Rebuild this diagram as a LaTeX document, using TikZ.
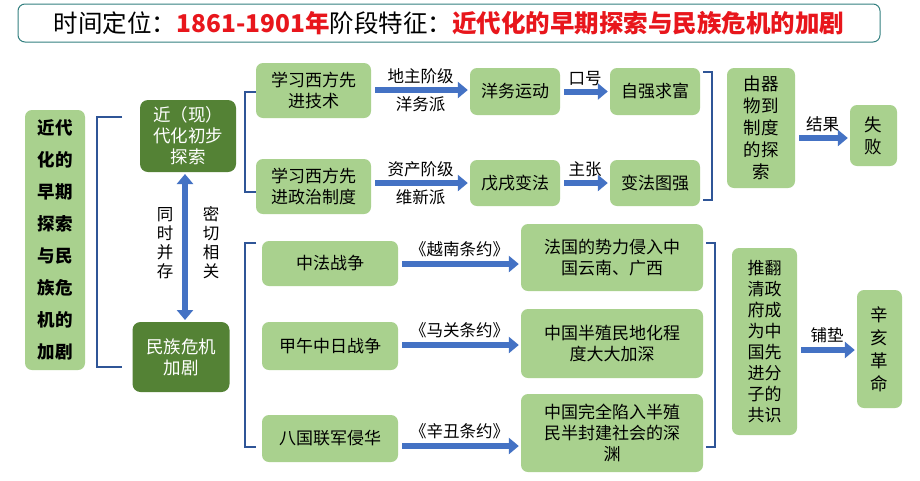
\documentclass[tikz,border=0pt]{standalone}
\usepackage{fontspec}
\setmainfont{Noto Sans CJK SC}
\usetikzlibrary{arrows.meta}
\definecolor{lg}{HTML}{A9D18E}
\definecolor{dg}{HTML}{548235}
\definecolor{ab}{HTML}{4472C4}
\definecolor{br}{HTML}{2F5597}
\definecolor{rd}{HTML}{E8161C}
\tikzset{
 lbox/.style={fill=lg,rounded corners=7pt,align=center,font=\fontsize{17}{21}\selectfont,inner sep=1pt},
 dbox/.style={fill=dg,rounded corners=8pt,align=center,text=white,font=\fontsize{17.5}{21}\selectfont,inner sep=1pt},
 barr/.style={draw=ab,line width=6pt,-{Triangle[length=10pt,width=16pt]},shorten <=4pt,shorten >=2pt},
 lab/.style={font=\fontsize{16.5}{19}\selectfont,inner sep=1pt},
 brk/.style={draw=br,line width=1.3pt}
}
\begin{document}
\begin{tikzpicture}[x=1pt,y=-1pt]
\useasboundingbox (0,0) rectangle (920,480);
\fill[white] (0,0) rectangle (920,480);
% title
\draw[draw=teal!60!gray,line width=1pt,rounded corners=7pt] (18,4) rectangle (880,42);
\node[font=\fontsize{24.5}{26}\selectfont] (title) at (449,23) {时间定位：\textcolor{rd}{\textbf{1861-1901年}}阶段特征：\textcolor{rd}{\textbf{近代化的早期探索与民族危机的加剧}}};
% left
\node[lbox,minimum width=60pt,minimum height=260pt,font=\fontsize{17.5}{32}\selectfont\bfseries] (main) at (55,240) {近代\\化的\\早期\\探索\\与民\\族危\\机的\\加剧};
\draw[brk] (122,117) -- (97,117) -- (97,367) -- (122,367);
\node[dbox,minimum width=96pt,minimum height=72pt] (exp) at (188,136) {近（现）\\代化初步\\探索};
\node[dbox,minimum width=97pt,minimum height=70pt] (cri) at (181,357) {民族危机\\加剧};
\draw[draw=ab,line width=6pt,{Triangle[length=10pt,width=16pt]}-{Triangle[length=10pt,width=16pt]}] (185,174) -- (185,320);
\node[lab,align=center,font=\fontsize{16.5}{19}\selectfont] (tl) at (165,243) {同\\时\\并\\存};
\node[lab,align=center,font=\fontsize{16.5}{19}\selectfont] (tr) at (211,243) {密\\切\\相\\关};
% upper
\draw[brk] (256,92) -- (245,92) -- (245,192) -- (256,192);
\node[lbox,minimum width=115pt,minimum height=55pt] (t1) at (313.5,90.5) {学习西方先\\进技术};
\node[lbox,minimum width=115pt,minimum height=55pt] (t2) at (313.5,186.5) {学习西方先\\进政治制度};
\node[lbox,minimum width=90pt,minimum height=47pt] (y1) at (515,91.5) {洋务运动};
\node[lbox,minimum width=90pt,minimum height=46pt] (y2) at (515,183) {戊戌变法};
\node[lbox,minimum width=90pt,minimum height=47pt] (z1) at (655,91.5) {自强求富};
\node[lbox,minimum width=90pt,minimum height=46pt] (z2) at (655,183) {变法图强};
\draw[barr] (t1.east |- 0,90) -- node[lab,above=2pt]{地主阶级} node[lab,below=3pt]{洋务派} (y1.west |- 0,90);
\draw[barr] (t2.east |- 0,183) -- node[lab,above=2pt]{资产阶级} node[lab,below=3pt]{维新派} (y2.west |- 0,183);
\draw[barr] (y1) -- node[lab,above=2pt]{口号} (z1);
\draw[barr] (y2) -- node[lab,above=2pt]{主张} (z2);
\draw[brk] (703,72) -- (712,72) -- (712,200) -- (703,200);
\node[lbox,minimum width=68pt,minimum height=120pt,font=\fontsize{17.5}{22}\selectfont] (qw) at (761,128) {由器\\物到\\制度\\的探\\索};
\node[lbox,minimum width=47pt,minimum height=61pt,font=\fontsize{17.5}{22}\selectfont] (sb) at (873.5,135.5) {失\\败};
\draw[barr] (qw.east |- 0,138) -- node[lab,above=2pt]{结果} (sb.west |- 0,138);
% lower
\draw[brk] (256,243) -- (245,243) -- (245,447) -- (256,447);
\node[lbox,minimum width=136pt,minimum height=45pt] (w1) at (330,263.5) {中法战争};
\node[lbox,minimum width=136pt,minimum height=48pt] (w2) at (330,346) {甲午中日战争};
\node[lbox,minimum width=136pt,minimum height=47pt] (w3) at (330,438.5) {八国联军侵华};
\node[lbox,minimum width=182pt,minimum height=67pt] (r1) at (612,257.5) {法国的势力侵入中\\国云南、广西};
\node[lbox,minimum width=182pt,minimum height=69pt] (r2) at (612,343.5) {中国半殖民地化程\\度大大加深};
\node[lbox,minimum width=182pt,minimum height=78pt] (r3) at (612,433) {中国完全陷入半殖\\民半封建社会的深\\渊};
\draw[barr] (w1.east |- 0,264) -- node[lab,above=3pt]{《越南条约》} (r1.west |- 0,264);
\draw[barr] (w2.east |- 0,345) -- node[lab,above=3pt]{《马关条约》} (r2.west |- 0,345);
\draw[barr] (w3.east |- 0,446) -- node[lab,above=3pt]{《辛丑条约》} (r3.west |- 0,446);
\draw[brk] (706,243) -- (715,243) -- (715,447) -- (706,447);
\node[lbox,minimum width=65pt,minimum height=187pt,font=\fontsize{17}{21}\selectfont] (tf) at (764.5,341.5) {推翻\\清政\\府成\\为中\\国先\\进分\\子的\\共识};
\node[lbox,minimum width=45pt,minimum height=118pt,font=\fontsize{17.5}{23}\selectfont] (xh) at (879.5,349) {辛\\亥\\革\\命};
\draw[barr] (tf.east |- 0,350) -- node[lab,above=3pt]{铺垫} (xh.west |- 0,350);
\end{tikzpicture}
\end{document}
